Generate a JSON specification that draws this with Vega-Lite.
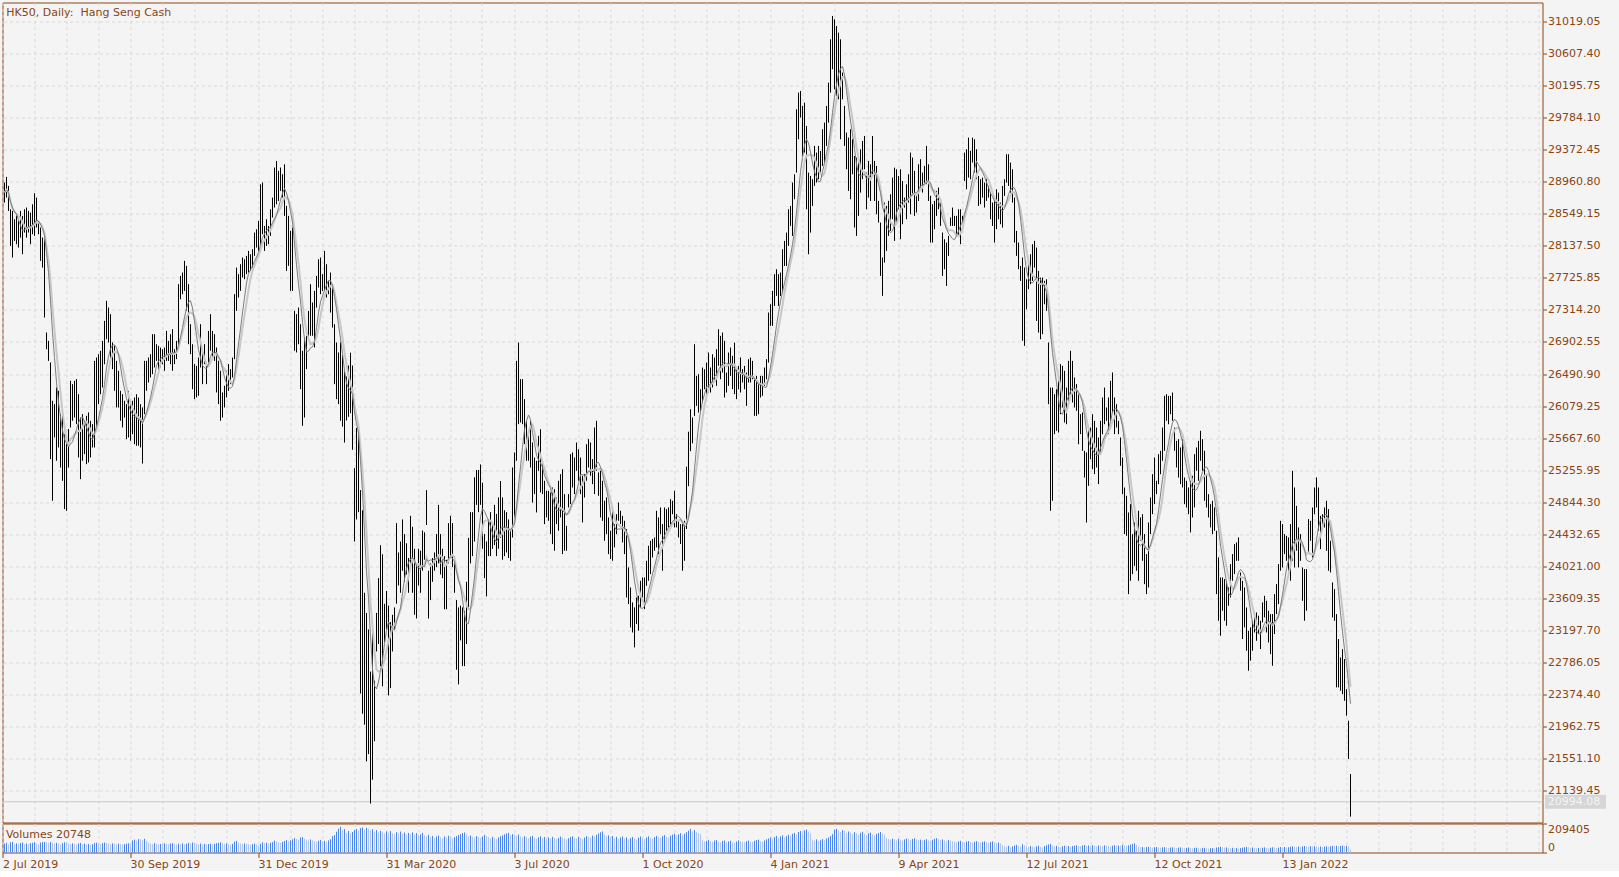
{
"$schema": "https://vega.github.io/schema/vega-lite/v6.json",
"background": "#f4f4f4",
"padding": {"left": -0.5, "top": 1.5, "right": 13, "bottom": 0},
"spacing": -2,
"config": {
 "font": "DejaVu Sans",
 "view": {"stroke": "#8a4513", "strokeWidth": 1, "fill": "#f4f4f4"},
 "axis": {"labelFont": "DejaVu Sans", "labelFontSize": 11, "labelColor": "#8a4513", "tickColor": "#8a4513", "gridColor": "#d9d9d9", "gridDash": [3, 3], "gridWidth": 1, "domain": false, "title": null, "labelOverlap": false, "labelBound": false, "tickCount": 1000, "minExtent": 0}
},
"data": {"values": [
{"i":0,"h":28951,"l":28694,"v":64000},{"i":1,"h":29024,"l":28758,"v":70000},{"i":2,"h":28908,"l":28587,"v":58000},{"i":3,"h":28608,"l":28137,"v":73000},{"i":4,"h":28587,"l":27988,"v":76000},
{"i":5,"h":28480,"l":28202,"v":62000},{"i":6,"h":28544,"l":28159,"v":66000},{"i":7,"h":28458,"l":28116,"v":60000},{"i":8,"h":28587,"l":28244,"v":69000},{"i":9,"h":28523,"l":28030,"v":72000},
{"i":10,"h":28608,"l":28309,"v":61000},{"i":11,"h":28630,"l":28244,"v":65000},{"i":12,"h":28587,"l":28309,"v":59000},{"i":13,"h":28565,"l":28159,"v":68000},{"i":14,"h":28672,"l":28287,"v":70000},
{"i":15,"h":28814,"l":28266,"v":74000},{"i":16,"h":28758,"l":28373,"v":63000},{"i":17,"h":28458,"l":28287,"v":57000},{"i":18,"h":28373,"l":27945,"v":71000},{"i":19,"h":28244,"l":27859,"v":75000},
{"i":20,"h":28266,"l":27217,"v":77000},{"i":21,"h":27024,"l":26810,"v":73000},{"i":22,"h":26917,"l":26660,"v":69000},{"i":23,"h":26639,"l":25398,"v":76000},{"i":24,"h":26147,"l":24862,"v":72000},
{"i":25,"h":26104,"l":25676,"v":66000},{"i":26,"h":26318,"l":25376,"v":70000},{"i":27,"h":26275,"l":25547,"v":64000},{"i":28,"h":25975,"l":25290,"v":58000},{"i":29,"h":25975,"l":25119,"v":67000},
{"i":30,"h":25718,"l":24755,"v":74000},{"i":31,"h":25590,"l":24733,"v":71000},{"i":32,"h":25783,"l":25290,"v":63000},{"i":33,"h":26404,"l":25804,"v":60000},{"i":34,"h":26361,"l":25890,"v":66000},
{"i":35,"h":26404,"l":25932,"v":62000},{"i":36,"h":26425,"l":25847,"v":57000},{"i":37,"h":26232,"l":25419,"v":65000},{"i":38,"h":25932,"l":25140,"v":69000},{"i":39,"h":25975,"l":25376,"v":61000},
{"i":40,"h":25890,"l":25462,"v":64000},{"i":41,"h":25954,"l":25333,"v":58000},{"i":42,"h":25997,"l":25355,"v":62000},{"i":43,"h":25890,"l":25419,"v":55000},{"i":44,"h":25847,"l":25547,"v":60000},
{"i":45,"h":26660,"l":25547,"v":68000},{"i":46,"h":26703,"l":25804,"v":71000},{"i":47,"h":26746,"l":26104,"v":65000},{"i":48,"h":26789,"l":26232,"v":62000},{"i":49,"h":26917,"l":26318,"v":67000},
{"i":50,"h":27174,"l":26617,"v":72000},{"i":51,"h":27431,"l":26939,"v":69000},{"i":52,"h":27345,"l":26896,"v":64000},{"i":53,"h":27260,"l":26660,"v":60000},{"i":54,"h":26896,"l":26553,"v":66000},
{"i":55,"h":26853,"l":26275,"v":63000},{"i":56,"h":26660,"l":26061,"v":59000},{"i":57,"h":26532,"l":26061,"v":64000},{"i":58,"h":26275,"l":25890,"v":61000},{"i":59,"h":26232,"l":25804,"v":57000},
{"i":60,"h":26147,"l":25932,"v":60000},{"i":61,"h":26104,"l":25654,"v":64000},{"i":62,"h":26275,"l":25676,"v":66000},{"i":63,"h":26147,"l":25633,"v":62000},{"i":64,"h":26147,"l":25718,"v":88000},
{"i":65,"h":26189,"l":25590,"v":93000},{"i":66,"h":26232,"l":25569,"v":86000},{"i":67,"h":26189,"l":25569,"v":97000},{"i":68,"h":26104,"l":25547,"v":95000},{"i":69,"h":26061,"l":25340,"v":90000},
{"i":70,"h":26660,"l":25975,"v":99000},{"i":71,"h":26660,"l":26275,"v":84000},{"i":72,"h":26703,"l":26382,"v":70000},{"i":73,"h":26746,"l":26447,"v":64000},{"i":74,"h":27003,"l":26489,"v":61000},
{"i":75,"h":27003,"l":26575,"v":67000},{"i":76,"h":26874,"l":26660,"v":63000},{"i":77,"h":26853,"l":26489,"v":58000},{"i":78,"h":26831,"l":26575,"v":62000},{"i":79,"h":26810,"l":26617,"v":60000},
{"i":80,"h":26831,"l":26532,"v":66000},{"i":81,"h":27045,"l":26660,"v":63000},{"i":82,"h":26917,"l":26660,"v":59000},{"i":83,"h":27003,"l":26617,"v":65000},{"i":84,"h":27067,"l":26532,"v":68000},
{"i":85,"h":26810,"l":26618,"v":62000},{"i":86,"h":26917,"l":26682,"v":57000},{"i":87,"h":27645,"l":26832,"v":64000},{"i":88,"h":27752,"l":27452,"v":61000},{"i":89,"h":27795,"l":27517,"v":66000},
{"i":90,"h":27945,"l":27559,"v":60000},{"i":91,"h":27881,"l":27302,"v":63000},{"i":92,"h":27645,"l":26874,"v":69000},{"i":93,"h":27131,"l":26746,"v":66000},{"i":94,"h":26874,"l":26296,"v":72000},
{"i":95,"h":26618,"l":26168,"v":68000},{"i":96,"h":26596,"l":26190,"v":63000},{"i":97,"h":26703,"l":26211,"v":60000},{"i":98,"h":27131,"l":26575,"v":65000},{"i":99,"h":26789,"l":26361,"v":58000},
{"i":100,"h":26874,"l":26618,"v":62000},{"i":101,"h":26618,"l":26361,"v":57000},{"i":102,"h":27045,"l":26639,"v":61000},{"i":103,"h":27260,"l":26789,"v":64000},{"i":104,"h":27045,"l":26703,"v":59000},
{"i":105,"h":27003,"l":26660,"v":63000},{"i":106,"h":26832,"l":26254,"v":67000},{"i":107,"h":26661,"l":26104,"v":70000},{"i":108,"h":26532,"l":25890,"v":74000},{"i":109,"h":26254,"l":25932,"v":68000},
{"i":110,"h":26340,"l":26061,"v":62000},{"i":111,"h":26532,"l":26190,"v":66000},{"i":112,"h":26618,"l":26275,"v":60000},{"i":113,"h":26554,"l":26361,"v":56000},{"i":114,"h":26703,"l":26447,"v":62000},
{"i":115,"h":27517,"l":26682,"v":78000},{"i":116,"h":27859,"l":27302,"v":84000},{"i":117,"h":27774,"l":27474,"v":71000},{"i":118,"h":27902,"l":27559,"v":65000},{"i":119,"h":27988,"l":27731,"v":61000},
{"i":120,"h":27966,"l":27710,"v":66000},{"i":121,"h":28009,"l":27774,"v":63000},{"i":122,"h":28073,"l":27795,"v":59000},{"i":123,"h":28030,"l":27816,"v":55000},{"i":124,"h":28095,"l":27859,"v":60000},
{"i":125,"h":28309,"l":28009,"v":64000},{"i":126,"h":28351,"l":28116,"v":58000},{"i":127,"h":28458,"l":28073,"v":50000},{"i":128,"h":28929,"l":28159,"v":62000},{"i":129,"h":28951,"l":28287,"v":74000},
{"i":130,"h":28394,"l":28073,"v":68000},{"i":131,"h":28480,"l":28137,"v":71000},{"i":132,"h":28394,"l":28159,"v":64000},{"i":133,"h":28608,"l":28266,"v":70000},{"i":134,"h":28758,"l":28501,"v":75000},
{"i":135,"h":29144,"l":28630,"v":86000},{"i":136,"h":29229,"l":28672,"v":80000},{"i":137,"h":29101,"l":28715,"v":73000},{"i":138,"h":29144,"l":28844,"v":69000},{"i":139,"h":29058,"l":28758,"v":77000},
{"i":140,"h":29186,"l":28523,"v":83000},{"i":141,"h":28651,"l":27816,"v":90000},{"i":142,"h":28523,"l":27881,"v":82000},{"i":143,"h":28330,"l":27559,"v":88000},{"i":144,"h":28373,"l":27559,"v":95000},
{"i":145,"h":27302,"l":26789,"v":104000},{"i":146,"h":27260,"l":26768,"v":98000},{"i":147,"h":27345,"l":26874,"v":90000},{"i":148,"h":27131,"l":26297,"v":108000},{"i":149,"h":26789,"l":25825,"v":112000},
{"i":150,"h":26961,"l":25932,"v":101000},{"i":151,"h":26982,"l":26554,"v":92000},{"i":152,"h":27302,"l":26960,"v":86000},{"i":153,"h":27645,"l":26982,"v":94000},{"i":154,"h":27410,"l":26982,"v":89000},
{"i":155,"h":27559,"l":26832,"v":82000},{"i":156,"h":27752,"l":27345,"v":78000},{"i":157,"h":27966,"l":27602,"v":85000},{"i":158,"h":27988,"l":27517,"v":91000},{"i":159,"h":27774,"l":27559,"v":80000},
{"i":160,"h":28073,"l":27559,"v":84000},{"i":161,"h":27902,"l":27474,"v":79000},{"i":162,"h":27688,"l":27517,"v":87000},{"i":163,"h":27795,"l":27281,"v":96000},{"i":164,"h":27602,"l":27088,"v":118000},
{"i":165,"h":27131,"l":26361,"v":126000},{"i":166,"h":26896,"l":26168,"v":150000},{"i":167,"h":26768,"l":26104,"v":172000},{"i":168,"h":26900,"l":25890,"v":186000},{"i":169,"h":26730,"l":25815,"v":160000},
{"i":170,"h":26520,"l":25610,"v":168000},{"i":171,"h":26459,"l":25894,"v":142000},{"i":172,"h":26600,"l":25941,"v":155000},{"i":173,"h":26765,"l":25988,"v":138000},{"i":174,"h":26600,"l":25517,"v":148000},
{"i":175,"h":25281,"l":24339,"v":162000},{"i":176,"h":25799,"l":24622,"v":170000},{"i":177,"h":25752,"l":24716,"v":158000},{"i":178,"h":24999,"l":22385,"v":176000},{"i":179,"h":24740,"l":22126,"v":181000},
{"i":180,"h":23680,"l":21985,"v":165000},{"i":181,"h":23421,"l":21513,"v":178000},{"i":182,"h":23209,"l":21607,"v":172000},{"i":183,"h":22667,"l":20972,"v":160000},{"i":184,"h":23232,"l":21278,"v":168000},
{"i":185,"h":22550,"l":21772,"v":150000},{"i":186,"h":23421,"l":22926,"v":162000},{"i":187,"h":23868,"l":23021,"v":145000},{"i":188,"h":24292,"l":22738,"v":156000},{"i":189,"h":24174,"l":22479,"v":149000},
{"i":190,"h":23538,"l":23044,"v":138000},{"i":191,"h":23703,"l":23209,"v":152000},{"i":192,"h":23515,"l":22361,"v":143000},{"i":193,"h":23303,"l":22455,"v":155000},{"i":194,"h":23397,"l":22926,"v":140000},
{"i":195,"h":23492,"l":23209,"v":132000},{"i":196,"h":24575,"l":23539,"v":147000},{"i":197,"h":24198,"l":23774,"v":139000},{"i":198,"h":24339,"l":23680,"v":151000},{"i":199,"h":24622,"l":23963,"v":136000},
{"i":200,"h":24434,"l":23821,"v":144000},{"i":201,"h":24316,"l":23915,"v":129000},{"i":202,"h":24127,"l":23680,"v":141000},{"i":203,"h":24669,"l":24057,"v":135000},{"i":204,"h":24528,"l":23680,"v":146000},
{"i":205,"h":24245,"l":23397,"v":131000},{"i":206,"h":24057,"l":23350,"v":140000},{"i":207,"h":24245,"l":23774,"v":128000},{"i":208,"h":24221,"l":23680,"v":131000},{"i":209,"h":24481,"l":23963,"v":142000},
{"i":210,"h":24457,"l":24104,"v":125000},{"i":211,"h":24999,"l":24551,"v":118000},{"i":212,"h":23963,"l":23350,"v":128000},{"i":213,"h":24057,"l":23586,"v":112000},{"i":214,"h":24127,"l":23821,"v":120000},
{"i":215,"h":24198,"l":23963,"v":106000},{"i":216,"h":24434,"l":24010,"v":115000},{"i":217,"h":24810,"l":24057,"v":123000},{"i":218,"h":24434,"l":23915,"v":110000},{"i":219,"h":24245,"l":23868,"v":102000},
{"i":220,"h":24151,"l":23468,"v":116000},{"i":221,"h":24104,"l":23468,"v":108000},{"i":222,"h":24575,"l":24057,"v":121000},{"i":223,"h":24669,"l":24151,"v":113000},{"i":224,"h":24575,"l":24010,"v":99000},
{"i":225,"h":24151,"l":23680,"v":111000},{"i":226,"h":23586,"l":22691,"v":118000},{"i":227,"h":23492,"l":22503,"v":126000},{"i":228,"h":23515,"l":23068,"v":133000},{"i":229,"h":23492,"l":22738,"v":140000},
{"i":230,"h":23445,"l":22738,"v":145000},{"i":231,"h":23822,"l":23021,"v":129000},{"i":232,"h":24386,"l":23492,"v":117000},{"i":233,"h":24716,"l":24057,"v":122000},{"i":234,"h":24716,"l":24151,"v":114000},
{"i":235,"h":25164,"l":24339,"v":107000},{"i":236,"h":25258,"l":24810,"v":119000},{"i":237,"h":25258,"l":24716,"v":112000},{"i":238,"h":25329,"l":24810,"v":104000},{"i":239,"h":25093,"l":24245,"v":115000},
{"i":240,"h":24434,"l":23868,"v":127000},{"i":241,"h":24339,"l":23633,"v":119000},{"i":242,"h":24622,"l":24151,"v":110000},{"i":243,"h":24716,"l":24151,"v":101000},{"i":244,"h":24575,"l":24245,"v":113000},
{"i":245,"h":24810,"l":24292,"v":106000},{"i":246,"h":24693,"l":24151,"v":98000},{"i":247,"h":24905,"l":24245,"v":109000},{"i":248,"h":25116,"l":24386,"v":117000},{"i":249,"h":24905,"l":24104,"v":124000},
{"i":250,"h":24740,"l":24151,"v":131000},{"i":251,"h":24716,"l":24198,"v":138000},{"i":252,"h":24622,"l":24127,"v":142000},{"i":253,"h":24477,"l":24091,"v":126000},{"i":254,"h":25290,"l":24391,"v":133000},
{"i":255,"h":25483,"l":24605,"v":128000},{"i":256,"h":26660,"l":25376,"v":121000},{"i":257,"h":26896,"l":25847,"v":130000},{"i":258,"h":26425,"l":25868,"v":116000},{"i":259,"h":26425,"l":25847,"v":109000},
{"i":260,"h":26168,"l":25590,"v":118000},{"i":261,"h":25889,"l":25376,"v":111000},{"i":262,"h":25761,"l":25376,"v":103000},{"i":263,"h":25889,"l":25290,"v":114000},{"i":264,"h":25611,"l":24840,"v":120000},
{"i":265,"h":25418,"l":24948,"v":107000},{"i":266,"h":25376,"l":24712,"v":99000},{"i":267,"h":25697,"l":25247,"v":110000},{"i":268,"h":25782,"l":24969,"v":117000},{"i":269,"h":25376,"l":24948,"v":104000},
{"i":270,"h":25119,"l":24562,"v":112000},{"i":271,"h":24990,"l":24648,"v":96000},{"i":272,"h":24990,"l":24605,"v":108000},{"i":273,"h":24969,"l":24434,"v":101000},{"i":274,"h":25033,"l":24306,"v":113000},
{"i":275,"h":25012,"l":24220,"v":105000},{"i":276,"h":24905,"l":24562,"v":97000},{"i":277,"h":25119,"l":24477,"v":106000},{"i":278,"h":25204,"l":24648,"v":115000},{"i":279,"h":25268,"l":24177,"v":109000},
{"i":280,"h":24948,"l":24220,"v":100000},{"i":281,"h":24541,"l":24220,"v":94000},{"i":282,"h":24948,"l":24776,"v":103000},{"i":283,"h":25461,"l":24819,"v":111000},{"i":284,"h":25483,"l":25033,"v":118000},
{"i":285,"h":25418,"l":24948,"v":106000},{"i":286,"h":25611,"l":25247,"v":99000},{"i":287,"h":25525,"l":25119,"v":112000},{"i":288,"h":25418,"l":24948,"v":104000},{"i":289,"h":25183,"l":24584,"v":96000},
{"i":290,"h":25204,"l":24904,"v":108000},{"i":291,"h":25589,"l":25119,"v":119000},{"i":292,"h":25654,"l":25290,"v":114000},{"i":293,"h":25611,"l":25183,"v":107000},{"i":294,"h":25397,"l":25076,"v":122000},
{"i":295,"h":25803,"l":24948,"v":115000},{"i":296,"h":25889,"l":25247,"v":128000},{"i":297,"h":25226,"l":24926,"v":137000},{"i":298,"h":25247,"l":24648,"v":146000},{"i":299,"h":25119,"l":24605,"v":152000},
{"i":300,"h":24862,"l":24348,"v":130000},{"i":301,"h":24905,"l":24434,"v":118000},{"i":302,"h":24648,"l":24177,"v":124000},{"i":303,"h":24477,"l":24113,"v":111000},{"i":304,"h":24776,"l":24091,"v":119000},
{"i":305,"h":24562,"l":24263,"v":105000},{"i":306,"h":24690,"l":24434,"v":113000},{"i":307,"h":24840,"l":24605,"v":98000},{"i":308,"h":24733,"l":24562,"v":108000},{"i":309,"h":24669,"l":24327,"v":116000},
{"i":310,"h":24605,"l":24177,"v":101000},{"i":311,"h":24498,"l":23620,"v":110000},{"i":312,"h":24006,"l":23534,"v":95000},{"i":313,"h":23748,"l":23235,"v":104000},{"i":314,"h":23556,"l":23170,"v":112000},
{"i":315,"h":23492,"l":22978,"v":100000},{"i":316,"h":23620,"l":23278,"v":93000},{"i":317,"h":23641,"l":23192,"v":107000},{"i":318,"h":23834,"l":23492,"v":115000},{"i":319,"h":23877,"l":23620,"v":102000},
{"i":320,"h":23877,"l":23470,"v":96000},{"i":321,"h":24091,"l":23770,"v":109000},{"i":322,"h":24284,"l":23834,"v":117000},{"i":323,"h":24348,"l":23920,"v":106000},{"i":324,"h":24370,"l":24134,"v":99000},
{"i":325,"h":24391,"l":24220,"v":111000},{"i":326,"h":24733,"l":24263,"v":120000},{"i":327,"h":24648,"l":24177,"v":113000},{"i":328,"h":24776,"l":24434,"v":105000},{"i":329,"h":24562,"l":23963,"v":118000},
{"i":330,"h":24776,"l":24348,"v":126000},{"i":331,"h":24755,"l":24477,"v":114000},{"i":332,"h":24776,"l":24520,"v":108000},{"i":333,"h":24883,"l":24562,"v":121000},{"i":334,"h":24862,"l":24690,"v":129000},
{"i":335,"h":24990,"l":24520,"v":135000},{"i":336,"h":24690,"l":24520,"v":124000},{"i":337,"h":24605,"l":24391,"v":131000},{"i":338,"h":24562,"l":24306,"v":140000},{"i":339,"h":24562,"l":23963,"v":128000},
{"i":340,"h":24605,"l":24091,"v":136000},{"i":341,"h":25300,"l":24500,"v":147000},{"i":342,"h":25750,"l":25050,"v":158000},{"i":343,"h":26039,"l":25500,"v":170000},{"i":344,"h":25932,"l":25600,"v":152000},
{"i":345,"h":26874,"l":25953,"v":163000},{"i":346,"h":26467,"l":26082,"v":149000},{"i":347,"h":26489,"l":25996,"v":141000},{"i":348,"h":26296,"l":26018,"v":132000},{"i":349,"h":26574,"l":26125,"v":88000},
{"i":350,"h":26553,"l":26296,"v":79000},{"i":351,"h":26638,"l":26211,"v":84000},{"i":352,"h":26767,"l":26253,"v":92000},{"i":353,"h":26574,"l":26253,"v":81000},{"i":354,"h":26745,"l":26318,"v":75000},
{"i":355,"h":26703,"l":26403,"v":86000},{"i":356,"h":26810,"l":26339,"v":90000},{"i":357,"h":27067,"l":26596,"v":78000},{"i":358,"h":26981,"l":26424,"v":72000},{"i":359,"h":27024,"l":26510,"v":83000},
{"i":360,"h":26917,"l":26189,"v":87000},{"i":361,"h":26510,"l":26253,"v":76000},{"i":362,"h":26767,"l":26339,"v":80000},{"i":363,"h":26831,"l":26467,"v":85000},{"i":364,"h":26724,"l":26296,"v":74000},
{"i":365,"h":26895,"l":26232,"v":70000},{"i":366,"h":26574,"l":26168,"v":79000},{"i":367,"h":26595,"l":26296,"v":88000},{"i":368,"h":26703,"l":26253,"v":82000},{"i":369,"h":26553,"l":26382,"v":77000},
{"i":370,"h":26595,"l":26296,"v":73000},{"i":371,"h":26510,"l":26082,"v":81000},{"i":372,"h":26681,"l":26382,"v":86000},{"i":373,"h":26703,"l":26382,"v":79000},{"i":374,"h":26660,"l":26424,"v":75000},
{"i":375,"h":26424,"l":25953,"v":84000},{"i":376,"h":26467,"l":25953,"v":90000},{"i":377,"h":26381,"l":25975,"v":93000},{"i":378,"h":26467,"l":26189,"v":80000},{"i":379,"h":26467,"l":26211,"v":78000},
{"i":380,"h":26574,"l":26339,"v":87000},{"i":381,"h":26681,"l":26424,"v":95000},{"i":382,"h":27281,"l":26638,"v":101000},{"i":383,"h":27388,"l":27110,"v":108000},{"i":384,"h":27559,"l":27110,"v":99000},
{"i":385,"h":27774,"l":27366,"v":112000},{"i":386,"h":27838,"l":27495,"v":120000},{"i":387,"h":27774,"l":27366,"v":105000},{"i":388,"h":27795,"l":27495,"v":116000},{"i":389,"h":28094,"l":27538,"v":124000},
{"i":390,"h":28201,"l":27880,"v":110000},{"i":391,"h":28308,"l":27880,"v":118000},{"i":392,"h":28608,"l":28137,"v":128000},{"i":393,"h":28651,"l":28394,"v":122000},{"i":394,"h":28951,"l":28266,"v":135000},
{"i":395,"h":29058,"l":28737,"v":141000},{"i":396,"h":29893,"l":29079,"v":130000},{"i":397,"h":30107,"l":29507,"v":148000},{"i":398,"h":30128,"l":29786,"v":155000},{"i":399,"h":29936,"l":29293,"v":142000},
{"i":400,"h":29978,"l":29336,"v":160000},{"i":401,"h":29679,"l":28608,"v":166000},{"i":402,"h":29079,"l":28030,"v":151000},{"i":403,"h":29036,"l":28308,"v":138000},{"i":404,"h":28994,"l":28651,"v":92000},
{"i":405,"h":29422,"l":28908,"v":86000},{"i":406,"h":29336,"l":28951,"v":95000},{"i":407,"h":29422,"l":28994,"v":83000},{"i":408,"h":29357,"l":29079,"v":89000},{"i":409,"h":29636,"l":29165,"v":97000},
{"i":410,"h":29722,"l":29207,"v":90000},{"i":411,"h":29936,"l":29422,"v":101000},{"i":412,"h":30235,"l":29722,"v":108000},{"i":413,"h":30792,"l":30107,"v":118000},{"i":414,"h":31092,"l":30407,"v":132000},
{"i":415,"h":31049,"l":30150,"v":165000},{"i":416,"h":30963,"l":30064,"v":171000},{"i":417,"h":30878,"l":30021,"v":158000},{"i":418,"h":30792,"l":29507,"v":148000},{"i":419,"h":30364,"l":30021,"v":162000},
{"i":420,"h":29936,"l":29422,"v":155000},{"i":421,"h":29593,"l":29122,"v":140000},{"i":422,"h":29529,"l":28844,"v":152000},{"i":423,"h":29636,"l":28737,"v":145000},{"i":424,"h":29508,"l":29058,"v":133000},
{"i":425,"h":29293,"l":28373,"v":147000},{"i":426,"h":29272,"l":28266,"v":138000},{"i":427,"h":29208,"l":28523,"v":128000},{"i":428,"h":29379,"l":28822,"v":142000},{"i":429,"h":29486,"l":28994,"v":150000},
{"i":430,"h":29550,"l":29122,"v":136000},{"i":431,"h":29079,"l":28608,"v":127000},{"i":432,"h":29229,"l":28758,"v":139000},{"i":433,"h":29186,"l":28715,"v":144000},{"i":434,"h":29550,"l":29058,"v":131000},
{"i":435,"h":29229,"l":28715,"v":125000},{"i":436,"h":29165,"l":28544,"v":134000},{"i":437,"h":28716,"l":28437,"v":141000},{"i":438,"h":28437,"l":27752,"v":148000},{"i":439,"h":27988,"l":27495,"v":137000},
{"i":440,"h":28694,"l":27923,"v":126000},{"i":441,"h":28651,"l":28073,"v":104000},{"i":442,"h":28716,"l":28266,"v":97000},{"i":443,"h":28801,"l":28330,"v":92000},{"i":444,"h":29015,"l":28480,"v":100000},
{"i":445,"h":29143,"l":28202,"v":95000},{"i":446,"h":29122,"l":28437,"v":88000},{"i":447,"h":29036,"l":28608,"v":99000},{"i":448,"h":29122,"l":28223,"v":93000},{"i":449,"h":28972,"l":28416,"v":86000},
{"i":450,"h":28758,"l":28630,"v":94000},{"i":451,"h":28929,"l":28480,"v":101000},{"i":452,"h":29058,"l":28694,"v":96000},{"i":453,"h":29336,"l":28544,"v":90000},{"i":454,"h":29272,"l":28780,"v":98000},
{"i":455,"h":29101,"l":28523,"v":103000},{"i":456,"h":28801,"l":28566,"v":95000},{"i":457,"h":29186,"l":28715,"v":89000},{"i":458,"h":29251,"l":28887,"v":93000},{"i":459,"h":29079,"l":28822,"v":87000},
{"i":460,"h":29165,"l":28930,"v":91000},{"i":461,"h":29422,"l":28930,"v":96000},{"i":462,"h":29186,"l":28715,"v":88000},{"i":463,"h":28780,"l":28180,"v":85000},{"i":464,"h":28673,"l":28180,"v":92000},
{"i":465,"h":28716,"l":28352,"v":99000},{"i":466,"h":28844,"l":28523,"v":104000},{"i":467,"h":28887,"l":28608,"v":97000},{"i":468,"h":28694,"l":28394,"v":90000},{"i":469,"h":28309,"l":27752,"v":94000},
{"i":470,"h":28223,"l":27838,"v":88000},{"i":471,"h":28180,"l":27623,"v":84000},{"i":472,"h":28266,"l":28009,"v":91000},{"i":473,"h":28502,"l":28394,"v":86000},{"i":474,"h":28630,"l":28394,"v":82000},
{"i":475,"h":28523,"l":28394,"v":78000},{"i":476,"h":28523,"l":28266,"v":74000},{"i":477,"h":28608,"l":28266,"v":80000},{"i":478,"h":28608,"l":28159,"v":85000},{"i":479,"h":28523,"l":28437,"v":77000},
{"i":480,"h":29336,"l":28972,"v":72000},{"i":481,"h":29379,"l":28865,"v":79000},{"i":482,"h":29529,"l":29015,"v":83000},{"i":483,"h":29358,"l":28994,"v":76000},{"i":484,"h":29529,"l":29208,"v":71000},
{"i":485,"h":29508,"l":29079,"v":78000},{"i":486,"h":29379,"l":28994,"v":82000},{"i":487,"h":29036,"l":28651,"v":75000},{"i":488,"h":28994,"l":28673,"v":70000},{"i":489,"h":29015,"l":28758,"v":77000},
{"i":490,"h":28951,"l":28630,"v":81000},{"i":491,"h":28994,"l":28716,"v":74000},{"i":492,"h":28908,"l":28758,"v":69000},{"i":493,"h":28822,"l":28480,"v":76000},{"i":494,"h":28694,"l":28394,"v":80000},
{"i":495,"h":28716,"l":28180,"v":73000},{"i":496,"h":28865,"l":28352,"v":68000},{"i":497,"h":28822,"l":28480,"v":72000},{"i":498,"h":28694,"l":28416,"v":66000},{"i":499,"h":28908,"l":28373,"v":52000},
{"i":500,"h":28994,"l":28780,"v":46000},{"i":501,"h":29315,"l":28951,"v":41000},{"i":502,"h":29315,"l":28908,"v":48000},{"i":503,"h":29208,"l":28822,"v":38000},{"i":504,"h":29122,"l":28694,"v":44000},
{"i":505,"h":28758,"l":28180,"v":50000},{"i":506,"h":28330,"l":28009,"v":55000},{"i":507,"h":28180,"l":27838,"v":47000},{"i":508,"h":27880,"l":27688,"v":42000},{"i":509,"h":27987,"l":26917,"v":60000},
{"i":510,"h":27859,"l":26853,"v":53000},{"i":511,"h":27709,"l":27324,"v":45000},{"i":512,"h":27945,"l":27581,"v":40000},{"i":513,"h":28030,"l":27645,"v":47000},{"i":514,"h":28159,"l":27688,"v":43000},
{"i":515,"h":28202,"l":27859,"v":38000},{"i":516,"h":28116,"l":27174,"v":44000},{"i":517,"h":27816,"l":27024,"v":49000},{"i":518,"h":27730,"l":26938,"v":41000},{"i":519,"h":27730,"l":27003,"v":36000},
{"i":520,"h":27688,"l":27388,"v":46000},{"i":521,"h":27709,"l":27302,"v":52000},{"i":522,"h":26896,"l":26103,"v":58000},{"i":523,"h":26317,"l":24733,"v":62000},{"i":524,"h":26317,"l":24862,"v":50000},
{"i":525,"h":26232,"l":25718,"v":44000},{"i":526,"h":26296,"l":25761,"v":48000},{"i":527,"h":26403,"l":25739,"v":42000},{"i":528,"h":26617,"l":25975,"v":39000},{"i":529,"h":26596,"l":26061,"v":45000},
{"i":530,"h":26532,"l":25868,"v":50000},{"i":531,"h":26317,"l":25846,"v":43000},{"i":532,"h":26660,"l":26146,"v":47000},{"i":533,"h":26789,"l":26232,"v":41000},{"i":534,"h":26660,"l":26125,"v":46000},
{"i":535,"h":26446,"l":26061,"v":49000},{"i":536,"h":26361,"l":26018,"v":52000},{"i":537,"h":26275,"l":25589,"v":48000},{"i":538,"h":25975,"l":25718,"v":45000},{"i":539,"h":25996,"l":25504,"v":51000},
{"i":540,"h":25504,"l":25161,"v":54000},{"i":541,"h":25483,"l":24583,"v":47000},{"i":542,"h":25803,"l":25054,"v":50000},{"i":543,"h":25803,"l":25397,"v":46000},{"i":544,"h":25975,"l":25268,"v":53000},
{"i":545,"h":25889,"l":25204,"v":49000},{"i":546,"h":25803,"l":25290,"v":44000},{"i":547,"h":25675,"l":25076,"v":51000},{"i":548,"h":25889,"l":25461,"v":48000},{"i":549,"h":26189,"l":25718,"v":45000},
{"i":550,"h":26317,"l":25846,"v":52000},{"i":551,"h":26061,"l":25889,"v":50000},{"i":552,"h":26189,"l":25718,"v":47000},{"i":553,"h":26403,"l":25889,"v":43000},{"i":554,"h":26510,"l":25996,"v":49000},
{"i":555,"h":26189,"l":25718,"v":53000},{"i":556,"h":26103,"l":25804,"v":46000},{"i":557,"h":25889,"l":25718,"v":50000},{"i":558,"h":25675,"l":25311,"v":48000},{"i":559,"h":25418,"l":24947,"v":55000},
{"i":560,"h":25033,"l":24434,"v":51000},{"i":561,"h":24926,"l":24412,"v":47000},{"i":562,"h":24712,"l":23663,"v":52000},{"i":563,"h":24819,"l":23834,"v":57000},{"i":564,"h":24434,"l":23920,"v":62000},
{"i":565,"h":24583,"l":24026,"v":66000},{"i":566,"h":24476,"l":23963,"v":54000},{"i":567,"h":24733,"l":23834,"v":42000},{"i":568,"h":24648,"l":24348,"v":38000},{"i":569,"h":24690,"l":24091,"v":40000},
{"i":570,"h":24434,"l":23791,"v":36000},{"i":571,"h":24177,"l":23663,"v":39000},{"i":572,"h":24583,"l":23748,"v":41000},{"i":573,"h":24904,"l":24434,"v":37000},{"i":574,"h":25204,"l":24690,"v":35000},
{"i":575,"h":25418,"l":24819,"v":38000},{"i":576,"h":25119,"l":24947,"v":40000},{"i":577,"h":25461,"l":25076,"v":36000},{"i":578,"h":25504,"l":25204,"v":34000},{"i":579,"h":25803,"l":25375,"v":37000},
{"i":580,"h":26210,"l":25504,"v":39000},{"i":581,"h":26232,"l":25889,"v":35000},{"i":582,"h":26210,"l":25846,"v":33000},{"i":583,"h":26210,"l":25975,"v":36000},{"i":584,"h":26253,"l":25889,"v":38000},
{"i":585,"h":25803,"l":25504,"v":34000},{"i":586,"h":25632,"l":25290,"v":32000},{"i":587,"h":25654,"l":25161,"v":35000},{"i":588,"h":25547,"l":25076,"v":37000},{"i":589,"h":25654,"l":25033,"v":33000},
{"i":590,"h":25161,"l":24819,"v":31000},{"i":591,"h":25119,"l":24776,"v":34000},{"i":592,"h":25033,"l":24690,"v":36000},{"i":593,"h":25119,"l":24455,"v":32000},{"i":594,"h":25183,"l":24648,"v":30000},
{"i":595,"h":25461,"l":24776,"v":33000},{"i":596,"h":25547,"l":25247,"v":35000},{"i":597,"h":25632,"l":25119,"v":31000},{"i":598,"h":25761,"l":25376,"v":29000},{"i":599,"h":25654,"l":25247,"v":32000},
{"i":600,"h":25504,"l":24862,"v":34000},{"i":601,"h":25204,"l":24776,"v":30000},{"i":602,"h":24947,"l":24648,"v":28000},{"i":603,"h":24819,"l":24520,"v":31000},{"i":604,"h":24862,"l":24434,"v":33000},
{"i":605,"h":24776,"l":24477,"v":29000},{"i":606,"h":24476,"l":23663,"v":36000},{"i":607,"h":24134,"l":23320,"v":39000},{"i":608,"h":23877,"l":23128,"v":42000},{"i":609,"h":23877,"l":23449,"v":38000},
{"i":610,"h":23856,"l":23320,"v":35000},{"i":611,"h":23834,"l":23256,"v":37000},{"i":612,"h":23748,"l":23513,"v":33000},{"i":613,"h":24048,"l":23620,"v":31000},{"i":614,"h":24177,"l":23834,"v":34000},
{"i":615,"h":24305,"l":23920,"v":30000},{"i":616,"h":24327,"l":24091,"v":32000},{"i":617,"h":24391,"l":24091,"v":29000},{"i":618,"h":23941,"l":23706,"v":31000},{"i":619,"h":23834,"l":23085,"v":35000},
{"i":620,"h":23748,"l":23235,"v":38000},{"i":621,"h":23491,"l":22935,"v":41000},{"i":622,"h":23192,"l":22678,"v":37000},{"i":623,"h":23235,"l":22807,"v":34000},{"i":624,"h":23320,"l":22935,"v":36000},
{"i":625,"h":23406,"l":23170,"v":32000},{"i":626,"h":23427,"l":23063,"v":30000},{"i":627,"h":23385,"l":23149,"v":33000},{"i":628,"h":23320,"l":22957,"v":31000},{"i":629,"h":23556,"l":23299,"v":35000},
{"i":630,"h":23641,"l":23363,"v":37000},{"i":631,"h":23577,"l":23170,"v":33000},{"i":632,"h":23449,"l":23042,"v":30000},{"i":633,"h":23406,"l":22892,"v":34000},{"i":634,"h":23406,"l":22742,"v":38000},
{"i":635,"h":23663,"l":23149,"v":36000},{"i":636,"h":23791,"l":23406,"v":32000},{"i":637,"h":24048,"l":23534,"v":35000},{"i":638,"h":24605,"l":23963,"v":39000},{"i":639,"h":24562,"l":24005,"v":37000},
{"i":640,"h":24434,"l":24177,"v":40000},{"i":641,"h":24412,"l":24091,"v":36000},{"i":642,"h":24391,"l":23963,"v":38000},{"i":643,"h":24562,"l":23834,"v":42000},{"i":644,"h":25247,"l":24091,"v":45000},
{"i":645,"h":25033,"l":24005,"v":41000},{"i":646,"h":24797,"l":24220,"v":39000},{"i":647,"h":24519,"l":24005,"v":43000},{"i":648,"h":24434,"l":24091,"v":40000},{"i":649,"h":24005,"l":23577,"v":44000},
{"i":650,"h":23984,"l":23320,"v":47000},{"i":651,"h":23984,"l":23449,"v":43000},{"i":652,"h":24626,"l":24177,"v":41000},{"i":653,"h":24605,"l":24348,"v":45000},{"i":654,"h":24776,"l":24134,"v":42000},
{"i":655,"h":25033,"l":24690,"v":46000},{"i":656,"h":25162,"l":24776,"v":44000},{"i":657,"h":25033,"l":24476,"v":40000},{"i":658,"h":24669,"l":24241,"v":43000},{"i":659,"h":24690,"l":24519,"v":39000},
{"i":660,"h":24776,"l":24519,"v":42000},{"i":661,"h":24862,"l":24220,"v":45000},{"i":662,"h":24755,"l":23963,"v":41000},{"i":663,"h":24348,"l":23941,"v":44000},{"i":664,"h":23813,"l":23363,"v":48000},
{"i":665,"h":23727,"l":23320,"v":46000},{"i":666,"h":23406,"l":22464,"v":49000},{"i":667,"h":23085,"l":22464,"v":45000},{"i":668,"h":22849,"l":22421,"v":47000},{"i":669,"h":22956,"l":22378,"v":50000},
{"i":670,"h":22828,"l":22292,"v":46000},{"i":671,"h":22442,"l":22100,"v":48000},{"i":672,"h":22036,"l":21544,"v":44000},{"i":673,"h":21351,"l":20803,"v":20748}
]},
"vconcat": [
 {
  "width": 1540,
  "height": 820,
  "encoding": {
   "x": {"type": "quantitative", "scale": {"domain": [-1, 769], "nice": false, "zero": false},
    "axis": {"orient": "bottom", "values": [-1, 14.75, 30.75, 46.75, 62.75, 78.75, 94.75, 110.75, 126.75, 142.75, 158.75, 174.75, 190.75, 206.75, 222.75, 238.75, 254.75, 270.75, 286.75, 302.75, 318.75, 334.75, 350.75, 366.75, 382.75, 398.75, 414.75, 430.75, 446.75, 462.75, 478.75, 494.75, 510.75, 526.75, 542.75, 558.75, 574.75, 590.75, 606.75, 622.75, 638.75, 654.75, 670.75, 686.75, 702.75, 718.75, 734.75, 750.75, 766.75], "grid": true, "labels": false, "ticks": false, "domain": false, "tickCount": 1000, "minExtent": 0, "maxExtent": 0}},
   "y": {"type": "quantitative", "scale": {"domain": [20728, 31265], "nice": false, "zero": false},
    "axis": {"orient": "right", "values": [31019.05, 30607.4, 30195.75, 29784.1, 29372.45, 28960.8, 28549.15, 28137.5, 27725.85, 27314.2, 26902.55, 26490.9, 26079.25, 25667.6, 25255.95, 24844.3, 24432.65, 24021, 23609.35, 23197.7, 22786.05, 22374.4, 21962.75, 21551.1, 21139.45], "format": ".2f", "grid": true, "tickSize": 4, "labelPadding": 1, "labelOverlap": false, "labelBound": false, "labelFlush": false, "tickCount": 1000}}
  },
  "layer": [
   {
    "data": {"values": [{}]},
    "mark": {"type": "rule", "color": "#c8c8c8", "strokeWidth": 1},
    "encoding": {"y": {"datum": 20994.08}}
   },
   {
    "mark": {"type": "rule", "color": "#000000", "strokeWidth": 1},
    "encoding": {"x": {"field": "i"}, "y": {"field": "l"}, "y2": {"field": "h"}}
   },
   {
    "transform": [
     {"fold": ["h", "l"], "as": ["k", "p"]},
     {"window": [{"op": "mean", "field": "p", "as": "ma"}], "sort": [{"field": "i", "order": "ascending"}, {"field": "k", "order": "ascending"}], "frame": [-17, 0]},
     {"filter": "datum.k == 'l'"}
    ],
    "mark": {"type": "line", "color": "#c8c8c8", "strokeWidth": 2},
    "encoding": {"x": {"field": "i"}, "y": {"field": "ma"}}
   },
   {
    "transform": [
     {"fold": ["h", "l"], "as": ["k", "p"]},
     {"window": [{"op": "mean", "field": "p", "as": "ma"}], "sort": [{"field": "i", "order": "ascending"}, {"field": "k", "order": "ascending"}], "frame": [-13, 0]},
     {"filter": "datum.k == 'l'"}
    ],
    "mark": {"type": "line", "color": "#7c7c7c", "strokeWidth": 1},
    "encoding": {"x": {"field": "i"}, "y": {"field": "ma"}}
   },
   {
    "data": {"values": [{}]},
    "mark": {"type": "rect", "fill": "#d6d6d6"},
    "encoding": {"x": {"datum": 770.25}, "x2": {"datum": 800.75}, "y": {"datum": 21085}, "y2": {"datum": 20905}}
   },
   {
    "data": {"values": [{}]},
    "mark": {"type": "text", "text": "20994.08", "align": "left", "baseline": "middle", "font": "DejaVu Sans", "fontSize": 11, "fill": "#f4f4f4"},
    "encoding": {"x": {"datum": 771.6}, "y": {"datum": 20994.08}}
   },
   {
    "data": {"values": [{}]},
    "mark": {"type": "text", "text": "HK50, Daily: \u00a0Hang Seng Cash", "align": "left", "baseline": "alphabetic", "font": "DejaVu Sans", "fontSize": 11, "fill": "#8a4513"},
    "encoding": {"x": {"datum": 0.9}, "y": {"datum": 31095}}
   }
  ]
 },
 {
  "width": 1540,
  "height": 29,
  "encoding": {
   "x": {"type": "quantitative", "scale": {"domain": [-1, 769], "nice": false, "zero": false},
    "axis": {"orient": "bottom", "values": [-1, 14.75, 30.75, 46.75, 62.75, 78.75, 94.75, 110.75, 126.75, 142.75, 158.75, 174.75, 190.75, 206.75, 222.75, 238.75, 254.75, 270.75, 286.75, 302.75, 318.75, 334.75, 350.75, 366.75, 382.75, 398.75, 414.75, 430.75, 446.75, 462.75, 478.75, 494.75, 510.75, 526.75, 542.75, 558.75, 574.75, 590.75, 606.75, 622.75, 638.75, 654.75, 670.75, 686.75, 702.75, 718.75, 734.75, 750.75, 766.75], "grid": true, "domain": false, "ticks": true, "tickSize": 5, "tickCount": 1000, "tickOpacity": {"condition": {"test": "datum.value < 0 || ((datum.value+1.25)%64==0 && datum.value<700)", "value": 1}, "value": 0}, "labelExpr": "datum.value < 0 ? '2 Jul 2019' : (((datum.value+1.25)%64==0 && datum.value<700) ? ['30 Sep 2019','31 Dec 2019','31 Mar 2020','3 Jul 2020','1 Oct 2020','4 Jan 2021','9 Apr 2021','12 Jul 2021','12 Oct 2021','13 Jan 2022'][(datum.value+1.25)/64-1] : '')", "labelAlign": "left", "labelBaseline": "top", "labelPadding": 1, "labelOverlap": false, "labelBound": false, "labelFlush": false}},
   "y": {"type": "quantitative", "scale": {"domain": [0, 209405], "nice": false, "zero": true},
    "axis": {"orient": "right", "values": [0, 209405], "format": "d", "grid": false, "tickSize": 4, "labelPadding": 1, "labelFlush": true, "labelOverlap": false, "tickCount": 1000}}
  },
  "layer": [
   {
    "transform": [
     {"window": [{"op": "lag", "field": "v", "as": "pv"}], "sort": [{"field": "i", "order": "ascending"}]}
    ],
    "mark": {"type": "rule", "strokeWidth": 1},
    "encoding": {
     "x": {"field": "i"},
     "y": {"field": "v"},
     "y2": {"datum": 0},
     "color": {"condition": {"test": "datum.v > datum.pv", "value": "#4a85ec"}, "value": "#acc4ee"}
    }
   },
   {
    "data": {"values": [{}]},
    "mark": {"type": "text", "text": "Volumes 20748", "align": "left", "baseline": "alphabetic", "font": "DejaVu Sans", "fontSize": 11, "fill": "#8a4513"},
    "encoding": {"x": {"datum": 0.7}, "y": {"datum": 104700}}
   }
  ]
 }
]
}
